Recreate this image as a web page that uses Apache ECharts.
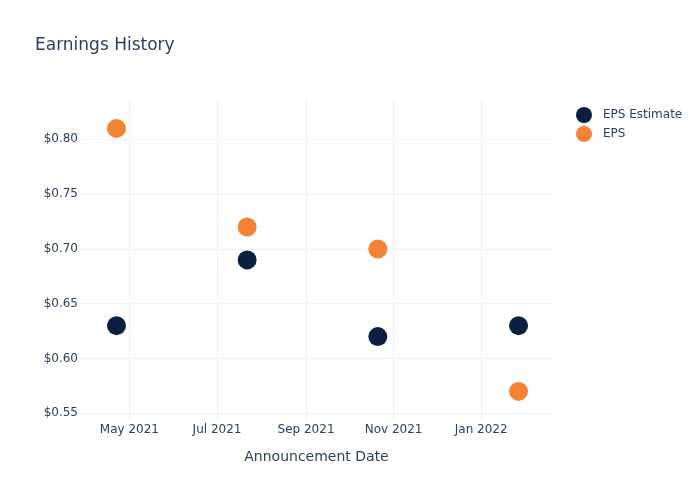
<!DOCTYPE html>
<html>
<head>
<meta charset="utf-8">
<script src="https://cdn.jsdelivr.net/npm/echarts@6/dist/echarts.min.js"></script>
<style>html,body{margin:0;padding:0;background:#fff}#c{width:700px;height:500px}</style>
</head>
<body>
<div id="c"></div>
<script>
const dates = ['2021-04-22', '2021-07-22', '2021-10-21', '2022-01-27'];
const epsEstimate = [0.63, 0.69, 0.62, 0.63];
const eps = [0.81, 0.72, 0.70, 0.57];
const xTicks = ['2021-05-01', '2021-07-01', '2021-09-01', '2021-11-01', '2022-01-01'];
const xRange = ['2021-03-27T14', '2022-02-20'];
const yRange = [0.5439, 0.8359];

const font = 'DejaVu Sans';
const txt = '#2a3f5f';
const grid = '#ebf0f8';
const MONTHS = ['Jan','Feb','Mar','Apr','May','Jun','Jul','Aug','Sep','Oct','Nov','Dec'];
const ts = s => {
  const [d, h] = s.split('T');
  const p = d.split('-').map(Number);
  return Date.UTC(p[0], p[1] - 1, p[2], h ? Number(h) : 0);
};

const chart = echarts.init(document.getElementById('c'));
chart.setOption({
  animation: false,
  textStyle: { fontFamily: font },
  title: {
    text: 'Earnings History', left: 30, top: 32,
    textStyle: { fontFamily: font, fontSize: 17, fontWeight: 'normal', color: txt }
  },
  legend: {
    orient: 'vertical', left: 571, top: 102, itemGap: 3,
    icon: 'circle', itemWidth: 16, itemHeight: 16,
    textStyle: { fontFamily: font, fontSize: 12, color: txt, padding: [0, 0, 0, 6] },
    data: ['EPS Estimate', 'EPS']
  },
  grid: { left: 80, right: 147, top: 100, bottom: 80 },
  xAxis: {
    type: 'value',
    min: ts(xRange[0]), max: ts(xRange[1]),
    name: 'Announcement Date', nameLocation: 'middle', nameGap: 30,
    nameTextStyle: { fontFamily: font, fontSize: 14, color: txt },
    axisLine: { show: false },
    axisTick: { show: false, customValues: xTicks.map(ts) },
    axisLabel: {
      customValues: xTicks.map(ts),
      formatter: v => { const d = new Date(v); return MONTHS[d.getUTCMonth()] + ' ' + d.getUTCFullYear(); },
      fontFamily: font, fontSize: 12, color: txt, margin: 4, hideOverlap: false
    },
    splitLine: { show: true, lineStyle: { color: grid, width: 1 } }
  },
  yAxis: {
    type: 'value', min: yRange[0], max: yRange[1], splitNumber: 5,
    axisLine: { show: false }, axisTick: { show: false },
    axisLabel: {
      formatter: v => '$' + v.toFixed(2), fontFamily: font, fontSize: 12, color: txt, margin: 2,
      showMinLabel: false, showMaxLabel: false
    },
    splitLine: { show: true, showMinLine: false, showMaxLine: false, lineStyle: { color: grid, width: 1 } }
  },
  series: [
    { name: 'EPS Estimate', type: 'scatter', symbolSize: 19, itemStyle: { color: '#0b1f41', opacity: 1 },
      data: dates.map((d, i) => [ts(d), epsEstimate[i]]) },
    { name: 'EPS', type: 'scatter', symbolSize: 19, itemStyle: { color: '#f58233', opacity: 1 },
      data: dates.map((d, i) => [ts(d), eps[i]]) }
  ]
});
</script>
</body>
</html>
